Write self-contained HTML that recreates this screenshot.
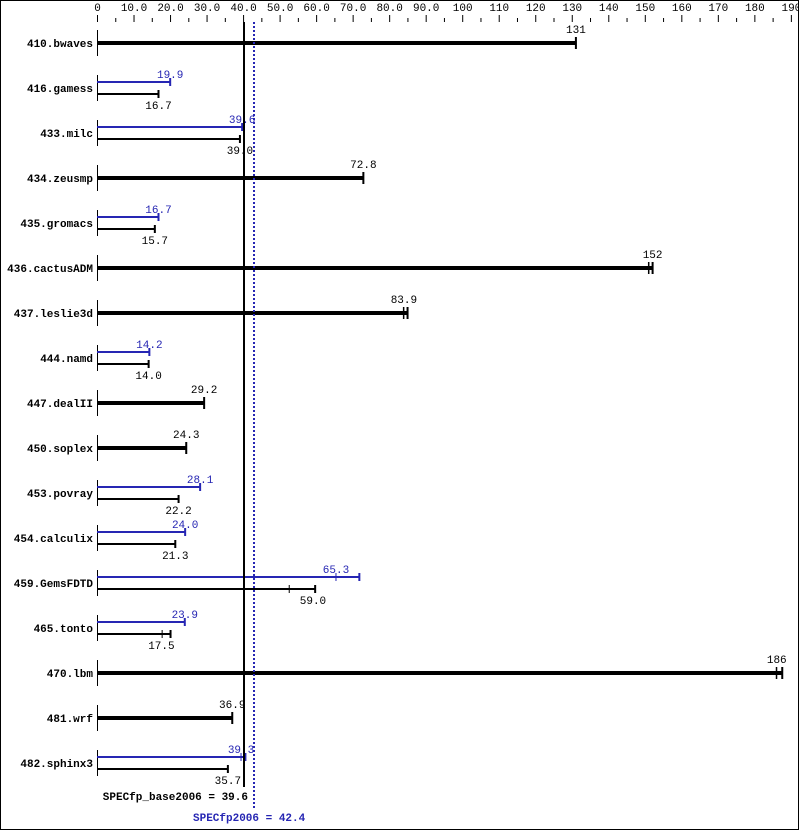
<!DOCTYPE html>
<html><head><meta charset="utf-8"><style>
html,body{margin:0;padding:0;background:#fff}
svg{display:block}
text{font-family:"Liberation Mono","DejaVu Sans Mono",monospace;font-size:11px}
</style></head><body>
<svg id="c" width="799" height="831" xmlns="http://www.w3.org/2000/svg"></svg>
<script>
const svg=document.getElementById('c');
let h='';
const O=97.5,S=3.652;
const X=v=>O+v*S;
h+='<rect x="0.5" y="0.5" width="798" height="829" fill="none" stroke="#000"/>';
// axis ticks
for(let v=0;v<=190;v+=5){
  const x=X(v);
  if(v%10==0){
    h+=`<line x1="${x}" y1="15" x2="${x}" y2="22" stroke="#000"/>`;
    const lab=v==0?'0':(v<100?v.toFixed(1):String(v));
    h+=`<text x="${x}" y="11" text-anchor="middle">${lab}</text>`;
  } else h+=`<line x1="${x}" y1="18" x2="${x}" y2="22" stroke="#000"/>`;
}
const rows=[
['410.bwaves',[131,131,131]],
['416.gamess',[19.9],[16.7]],
['433.milc',[39.6],[39.0]],
['434.zeusmp',[72.8]],
['435.gromacs',[16.7],[15.7]],
['436.cactusADM',[152,151,152]],
['437.leslie3d',[83.9,83.9,84.9]],
['444.namd',[14.2],[14.0]],
['447.dealII',[29.2]],
['450.soplex',[24.3]],
['453.povray',[28.1],[22.2]],
['454.calculix',[24.0],[21.3]],
['459.GemsFDTD',[65.3,65.3,71.7],[59.0,52.5,59.6]],
['465.tonto',[23.9],[17.5,17.7,20.0]],
['470.lbm',[186,186,187.5]],
['481.wrf',[36.9]],
['482.sphinx3',[39.3,39.3,40.5],[35.7]]
];
const B='#2626b3';
rows.forEach((r,i)=>{
  const cy=43+i*45;
  h+=`<text x="93" y="${cy+4}" text-anchor="end" font-weight="bold">${r[0]}</text>`;
  h+=`<line x1="97.5" y1="${cy-13}" x2="97.5" y2="${cy+13}" stroke="#000"/>`;
  if(r.length==2){
    const v=r[1][0],m=r[1][1]??v,e=r[1][2]??v;
    h+=`<rect x="97" y="${cy-2}" width="${X(e)-97}" height="4" fill="#000"/>`;
    h+=`<rect x="${X(e)-1}" y="${cy-6}" width="2" height="12" fill="#000"/>`;
    if(m!=e) h+=`<rect x="${X(m)-1}" y="${cy-6}" width="1.5" height="12" fill="#000"/>`;
    h+=`<text x="${X(v)}" y="${cy-10}" text-anchor="middle">${v>=100?v:v.toFixed(1)}</text>`;
  } else {
    [[r[1],-6,B,-10],[r[2],6,'#000',21]].forEach(([d,dy,c,ty])=>{
      const v=d[0],m=d[1]??v,e=d[2]??v,y=cy+dy;
      h+=`<rect x="97" y="${y-1}" width="${X(e)-97}" height="2" fill="${c}"/>`;
      h+=`<rect x="${X(e)-1}" y="${y-4}" width="2" height="8" fill="${c}"/>`;
      if(m!=e) h+=`<rect x="${X(m)-0.5}" y="${y-4}" width="1" height="8" fill="${c}"/>`;
      h+=`<text x="${X(v)}" y="${cy+ty-(dy<0?0:0)}" text-anchor="middle" fill="${c}">${v.toFixed(1)}</text>`;
    });
  }
});
h+=`<line x1="244" y1="22" x2="244" y2="787" stroke="#000" stroke-width="2"/>`;
h+=`<line x1="254" y1="22" x2="254" y2="808" stroke="${B}" stroke-width="2" stroke-dasharray="2,2"/>`;
h+=`<text x="248" y="800" text-anchor="end" font-weight="bold">SPECfp_base2006 = 39.6</text>`;
h+=`<text x="193" y="821" font-weight="bold" fill="${B}">SPECfp2006 = 42.4</text>`;
svg.innerHTML=h;
</script>
</body></html>
